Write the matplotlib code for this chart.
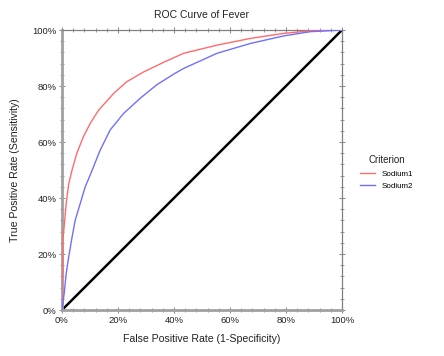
import matplotlib.pyplot as plt
from matplotlib.ticker import MultipleLocator, PercentFormatter

plt.rcParams['font.family'] = ['Liberation Sans', 'DejaVu Sans']

# -------------------------
# Data
# -------------------------
sodium1_fpr = [0.0, 0.0, 0.003, 0.003, 0.008, 0.015, 0.024, 0.036, 0.053, 0.077, 0.101,
               0.131, 0.185, 0.231, 0.291, 0.37, 0.435, 0.554, 0.673, 0.792, 0.886, 1.0]
sodium1_tpr = [0.0, 0.08, 0.14, 0.25, 0.30, 0.38, 0.45, 0.50, 0.56, 0.62, 0.667,
               0.714, 0.774, 0.815, 0.85, 0.888, 0.917, 0.946, 0.97, 0.988, 0.997, 1.0]

sodium2_fpr = [0.0, 0.008, 0.015, 0.024, 0.036, 0.047, 0.065, 0.083, 0.104, 0.136, 0.172,
               0.22, 0.279, 0.338, 0.403, 0.435, 0.554, 0.673, 0.792, 0.886, 1.0]
sodium2_tpr = [0.0, 0.06, 0.13, 0.19, 0.26, 0.32, 0.38, 0.44, 0.49, 0.57, 0.643,
               0.702, 0.756, 0.804, 0.845, 0.863, 0.917, 0.952, 0.979, 0.994, 1.0]

ref_line = [0.0, 1.0]

# -------------------------
# Plot
# -------------------------
fig = plt.figure(figsize=(4.44, 3.56), dpi=100)
ax = fig.add_axes([0.1396, 0.1292, 0.6307, 0.7865])

ax.plot(ref_line, ref_line, color="black", lw=1.8, zorder=2)
ax.plot(sodium1_fpr, sodium1_tpr, color="#ff6b6b", lw=1.0, label="Sodium1", zorder=3)
ax.plot(sodium2_fpr, sodium2_tpr, color="#7070ff", lw=1.0, label="Sodium2", zorder=3)

ax.set_xlim(0, 1)
ax.set_ylim(0, 1)

ax.xaxis.set_major_locator(MultipleLocator(0.2))
ax.yaxis.set_major_locator(MultipleLocator(0.2))
ax.xaxis.set_minor_locator(MultipleLocator(0.04))
ax.yaxis.set_minor_locator(MultipleLocator(0.04))
ax.xaxis.set_major_formatter(PercentFormatter(1.0, decimals=0))
ax.yaxis.set_major_formatter(PercentFormatter(1.0, decimals=0))

ax.tick_params(which="both", direction="inout", top=True, right=True,
               color="#888888", labelsize=6.8, labelcolor="#222222", pad=2)
ax.tick_params(which="major", length=4, width=0.7)
ax.tick_params(which="minor", length=2.5, width=0.6)
ax.tick_params(axis="x", which="both", labeltop=False)
ax.tick_params(axis="y", which="both", labelright=False)

for side in ["left", "bottom"]:
    ax.spines[side].set_color("#a0a0a0")
    ax.spines[side].set_linewidth(2.0)
for side in ["top", "right"]:
    ax.spines[side].set_color("#808080")
    ax.spines[side].set_linewidth(0.9)

ax.set_title("ROC Curve of Fever", fontsize=7.5, color="#222222", pad=9)
ax.set_xlabel("False Positive Rate (1-Specificity)", fontsize=7.6, color="#222222", labelpad=7)
ax.set_ylabel("True Positive Rate (Sensitivity)", fontsize=7.6, color="#222222", labelpad=9)

leg = ax.legend(title="Criterion", loc="center left", bbox_to_anchor=(1.04, 0.49),
                frameon=False, fontsize=5.8, title_fontsize=7, handlelength=1.8,
                handletextpad=0.8, labelspacing=0.6)
leg.get_title().set_color("#222222")

fig.savefig("out.png", dpi=100)
